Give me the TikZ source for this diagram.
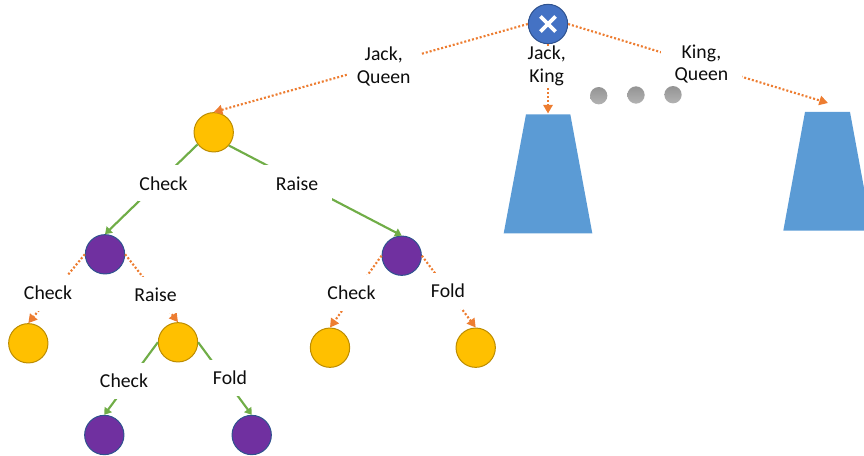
\documentclass[tikz,border=0pt]{standalone}
\usepackage{fontspec}
\setmainfont{Carlito}
\usetikzlibrary{arrows.meta,shapes.misc}
\definecolor{dotorange}{HTML}{ED7D31}
\definecolor{movegreen}{HTML}{70AD47}
\definecolor{chanceblue}{HTML}{4472C4}
\definecolor{chanceedge}{HTML}{2F528F}
\definecolor{stateyellow}{HTML}{FFC000}
\definecolor{yellowedge}{HTML}{BC8C00}
\definecolor{statepurple}{HTML}{7030A0}
\definecolor{subtreeblue}{HTML}{5B9BD5}
\begin{document}
\begin{tikzpicture}[x=0.75pt,y=-0.75pt,
  chancenode/.style={circle,draw=chanceedge,fill=chanceblue,line width=0.75pt,minimum size=29.5pt,inner sep=0pt},
  yellownode/.style={circle,draw=yellowedge,fill=stateyellow,line width=0.75pt,minimum size=29.5pt,inner sep=0pt},
  purplenode/.style={circle,draw=chanceedge,fill=statepurple,line width=0.75pt,minimum size=29.5pt,inner sep=0pt},
  greydot/.style={circle,top color=black!42,bottom color=black!30,draw=none,minimum size=13pt,inner sep=0pt},
  movelabel/.style={fill=white,text=black!95,font=\fontsize{14.8}{17.2}\selectfont,align=center,inner sep=0pt,minimum width=39pt,minimum height=27pt},
  dealedge/.style={dotorange,line width=1.6pt,dash pattern=on 1.5pt off 1.5pt,-{Triangle[length=6.5pt,width=7pt]}},
  greenedge/.style={movegreen,line width=1.6pt,-{Triangle[length=5pt,width=6.5pt]}}]

\fill[subtreeblue] (526,114.3) -- (570.3,114.3) -- (592.3,233.3) -- (503.7,233.3) -- cycle;
\fill[subtreeblue] (805,112) -- (850,112) -- (864,188) -- (864,230.7) -- (783.3,230.7) -- cycle;

\node (dotA) at (598.7,95.7) [greydot]{};
\node (dotB) at (636,95) [greydot]{};
\node (dotC) at (673,94.7) [greydot]{};

\node (deal) at (548,24) [chancenode]{};
\node (dealx) at (548,24) [cross out,draw=white,line width=2.9pt,minimum size=8.5pt,inner sep=0pt]{};
\coordinate (subtreeL) at (548,113.5);
\coordinate (subtreeR) at (828,103);

\node (yRoot) at (213.7,132.3) [yellownode]{};
\node (pLeft) at (105,254.3) [purplenode]{};
\node (pRight) at (401.7,255.7) [purplenode]{};
\node (yLeaf) at (28.3,343.3) [yellownode]{};
\node (yMid) at (178,342.3) [yellownode]{};
\node (yRightA) at (330,347.7) [yellownode]{};
\node (yRightB) at (475.7,347.7) [yellownode]{};
\node (pLeafA) at (104.3,435) [purplenode]{};
\node (pLeafB) at (251.7,435) [purplenode]{};

\draw[dealedge] (deal.west) -- (yRoot.north);
\draw[dealedge] (deal.south) -- (subtreeL);
\draw[dealedge] (deal.east) -- (subtreeR);
\draw[greenedge] (yRoot.217) -- (pLeft.north);
\draw[greenedge] (yRoot.-41) -- (pRight.north);
\draw[dealedge] (pLeft.west) -- (yLeaf.north);
\draw[dealedge] (pLeft.east) -- (yMid.north);
\draw[greenedge] (yMid.west) -- (pLeafA.north);
\draw[greenedge] (yMid.east) -- (pLeafB.north);
\draw[dealedge] (pRight.west) -- (yRightA.north);
\draw[dealedge] (pRight.east) -- (yRightB.north);

\node (lblJQ) at (383.7,66) [movelabel,minimum width=55.5pt,minimum height=28.5pt]{Jack,\\Queen};
\node (lblJK) at (546.7,66) [movelabel,minimum width=42pt,minimum height=28.5pt]{Jack,\\King};
\node (lblKQ) at (701.5,64) [movelabel,minimum width=61pt,minimum height=28.5pt]{King,\\Queen};
\node (lblChkA) at (163.5,183.5) [movelabel]{Check};
\node (lblRaiseA) at (297,183.5) [movelabel,minimum width=52pt]{Raise};
\node (lblChkB) at (48,293) [movelabel]{Check};
\node (lblRaiseB) at (155.5,294.5) [movelabel]{Raise};
\node (lblChkC) at (351.5,293) [movelabel]{Check};
\node (lblFoldA) at (448,290.5) [movelabel]{Fold};
\node (lblChkD) at (124,380.5) [movelabel]{Check};
\node (lblFoldB) at (230,378) [movelabel]{Fold};

\useasboundingbox (0,0) rectangle (864,456);
\end{tikzpicture}
\end{document}
